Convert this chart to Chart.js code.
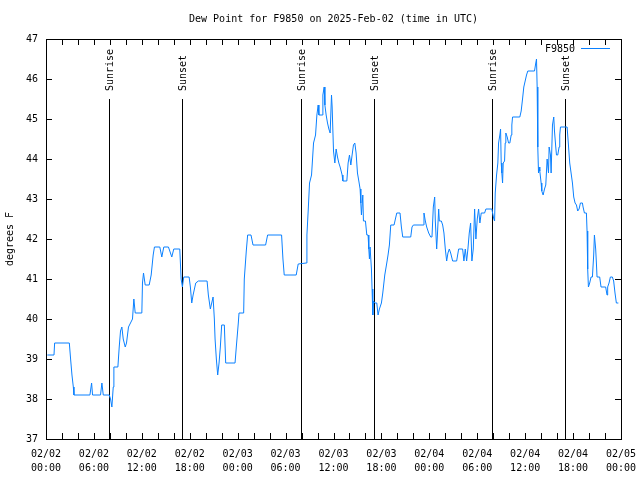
<!DOCTYPE html>
<html>
<head>
<meta charset="utf-8">
<script src="https://cdn.jsdelivr.net/npm/chart.js@4/dist/chart.umd.min.js"></script>
<style>
  html, body { margin: 0; padding: 0; background: #fff; }
  canvas { display: block; }
</style>
</head>
<body>
<canvas id="myChart" width="640" height="480"></canvas>
<script>
const chartTitle = 'Dew Point for F9850 on 2025-Feb-02 (time in UTC)';
const yTitle = 'degrees F';
const seriesName = 'F9850';

// hours since 02/02 00:00 UTC
const hours = [
  0.17, 1.0, 1.08, 2.92, 3.08, 3.25, 3.42, 3.5, 5.5, 5.71, 5.83, 6.83, 7.0, 7.17, 7.92, 8.08,
  8.25, 8.42, 8.5, 9.0, 9.17, 9.33, 9.5, 9.67, 9.92, 10.08, 10.33, 10.58, 10.83, 11.0, 11.17, 12.0,
  12.08, 12.21, 12.42, 12.92, 13.17, 13.42, 13.58, 14.25, 14.5, 14.75, 15.33, 15.75, 16.0, 16.75, 16.92, 17.08,
  17.25, 17.92, 18.08, 18.25, 18.42, 18.75, 19.08, 20.17, 20.33, 20.58, 20.75, 20.92, 21.08, 21.17, 21.33, 21.5,
  21.67, 21.83, 22.0, 22.33, 22.5, 23.67, 23.83, 24.08, 24.17, 24.75, 24.83, 25.08, 25.25, 25.67, 25.92, 27.5,
  27.75, 29.5, 29.67, 29.83, 31.33, 31.58, 32.58, 32.67, 32.83, 33.0, 33.25, 33.5, 33.75, 33.92, 34.08, 34.17,
  34.58, 34.67, 34.83, 34.92, 35.08, 35.25, 35.42, 35.58, 35.75, 35.83, 36.0, 36.17, 36.33, 36.5, 36.67, 36.83,
  37.08, 37.17, 37.67, 37.83, 38.0, 38.17, 38.33, 38.5, 38.67, 38.83, 39.0, 39.17, 39.33, 39.42, 39.5, 39.67,
  39.75, 40.0, 40.17, 40.33, 40.42, 40.5, 40.58, 40.75, 40.83, 40.92, 41.0, 41.17, 41.42, 41.58, 41.75, 42.0,
  42.17, 42.42, 42.67, 42.83, 43.0, 43.17, 43.58, 43.75, 43.92, 44.33, 44.5, 44.67, 45.67, 45.83, 46.0, 47.25,
  47.33, 47.5, 47.67, 47.92, 48.17, 48.33, 48.5, 48.67, 48.75, 48.92, 49.0, 49.17, 49.25, 49.5, 49.67, 49.83,
  50.0, 50.17, 50.33, 50.5, 50.67, 50.92, 51.42, 51.67, 52.17, 52.33, 52.5, 52.67, 52.83, 53.0, 53.17, 53.33,
  53.5, 53.67, 53.83, 54.0, 54.17, 54.33, 54.5, 54.92, 55.08, 55.83, 55.92, 56.08, 56.17, 56.25, 56.42, 56.58,
  56.67, 56.83, 56.92, 57.0, 57.08, 57.17, 57.25, 57.42, 57.5, 57.58, 57.75, 57.92, 58.08, 58.25, 58.33, 58.42,
  59.33, 59.5, 59.67, 59.83, 60.0, 60.17, 60.33, 61.17, 61.33, 61.42, 61.5, 61.58, 61.67, 61.75, 61.83, 62.0,
  62.08, 62.25, 62.42, 62.58, 62.75, 62.92, 63.0, 63.17, 63.25, 63.42, 63.58, 63.67, 63.83, 63.92, 64.08, 64.25,
  64.33, 64.42, 65.25, 65.42, 65.58, 65.75, 65.92, 66.08, 66.25, 66.42, 66.58, 66.75, 66.92, 67.17, 67.25, 67.42,
  67.67, 67.75, 67.83, 67.92, 68.08, 68.25, 68.42, 68.58, 68.67, 68.83, 68.92, 69.0, 69.33, 69.5, 70.08, 70.25,
  70.33, 70.5, 70.67, 70.92, 71.08, 71.25, 71.42, 71.67
];

const dewPoint = [
  39.1, 39.1, 39.4, 39.4, 39.0, 38.6, 38.3, 38.1, 38.1, 38.4, 38.1, 38.1, 38.4, 38.1, 38.1, 38.0,
  37.8, 38.3, 38.8, 38.8, 39.3, 39.7, 39.8, 39.5, 39.3, 39.4, 39.8, 39.9, 40.0, 40.5, 40.15, 40.15,
  40.9, 41.15, 40.85, 40.85, 41.1, 41.6, 41.8, 41.8, 41.55, 41.8, 41.8, 41.55, 41.75, 41.75, 41.0, 40.8,
  41.05, 41.05, 40.8, 40.4, 40.6, 40.9, 40.95, 40.95, 40.6, 40.25, 40.4, 40.55, 40.0, 39.5, 39.0, 38.6,
  38.9, 39.3, 39.85, 39.85, 38.9, 38.9, 39.3, 39.9, 40.15, 40.15, 41.0, 41.7, 42.1, 42.1, 41.85, 41.85,
  42.1, 42.1, 41.5, 41.1, 41.1, 41.375, 41.4, 42.1, 42.7, 43.4, 43.6, 44.4, 44.6, 45.1, 45.35, 45.1,
  45.1, 45.6, 45.8, 45.35, 45.1, 44.9, 44.75, 44.65, 45.6, 45.3, 44.2, 43.9, 44.25, 44.05, 43.9, 43.8,
  43.6, 43.45, 43.45, 43.9, 44.1, 43.85, 44.1, 44.35, 44.4, 44.15, 43.65, 43.45, 43.25, 42.9, 42.6, 43.1,
  42.45, 42.45, 42.1, 42.1, 41.75, 41.5, 41.8, 41.25, 40.75, 40.1, 40.45, 40.4, 40.4, 40.1, 40.25, 40.4,
  40.65, 41.1, 41.4, 41.6, 41.85, 42.35, 42.35, 42.5, 42.65, 42.65, 42.3, 42.05, 42.05, 42.3, 42.35, 42.35,
  42.65, 42.45, 42.3, 42.15, 42.05, 42.05, 42.8, 43.05, 42.45, 41.75, 42.05, 42.75, 42.45, 42.45, 42.35, 42.15,
  41.75, 41.45, 41.65, 41.75, 41.65, 41.45, 41.45, 41.75, 41.75, 41.45, 41.75, 41.45, 41.75, 42.15, 42.4, 41.45,
  41.75, 42.75, 42.0, 42.5, 42.75, 42.4, 42.65, 42.65, 42.75, 42.75, 42.65, 42.5, 42.45, 43.15, 43.6, 43.9,
  44.4, 44.6, 44.75, 43.9, 43.65, 43.4, 43.9, 43.95, 44.4, 44.65, 44.55, 44.4, 44.4, 44.6, 44.85, 45.05,
  45.05, 45.2, 45.5, 45.8, 45.95, 46.1, 46.2, 46.2, 46.4, 46.5, 45.8, 44.3, 43.65, 43.8, 43.7, 43.4,
  43.2, 43.1, 43.25, 43.35, 44.0, 43.65, 44.3, 44.1, 43.65, 44.85, 45.05, 44.7, 44.3, 44.1, 44.1, 44.3,
  44.6, 44.8, 44.8, 44.35, 43.9, 43.65, 43.4, 43.05, 42.9, 42.85, 42.7, 42.75, 42.9, 42.9, 42.8, 42.65,
  42.65, 42.2, 41.25, 40.8, 40.9, 41.05, 41.05, 41.6, 42.1, 41.75, 41.4, 41.05, 41.05, 40.8, 40.8, 40.6,
  40.8, 40.9, 41.05, 41.05, 40.95, 40.65, 40.4, 40.4
];

const xTickLabels = [
  ['02/02', '00:00'], ['02/02', '06:00'], ['02/02', '12:00'], ['02/02', '18:00'],
  ['02/03', '00:00'], ['02/03', '06:00'], ['02/03', '12:00'], ['02/03', '18:00'],
  ['02/04', '00:00'], ['02/04', '06:00'], ['02/04', '12:00'], ['02/04', '18:00'],
  ['02/05', '00:00']
];

const eventHours = [7.92, 17.03, 31.9, 41.04, 55.85, 64.95];
const eventLabels = ['Sunrise', 'Sunset', 'Sunrise', 'Sunset', 'Sunrise', 'Sunset'];

const FONT = '"DejaVu Sans Mono", "Liberation Mono", monospace';
const lineColor = '#0a80ff';

// frame, inward ticks, title, legend and sun lines
const extras = {
  id: 'extras',
  beforeDatasetsDraw(chart) {
    const { ctx, chartArea: a, scales: { x, y } } = chart;
    ctx.save();
    ctx.strokeStyle = '#000';
    ctx.lineWidth = 1;
    ctx.fillStyle = '#000';
    ctx.font = '10px ' + FONT;
    eventHours.forEach((h, i) => {
      const px = Math.round(x.getPixelForValue(h)) + 0.5;
      ctx.beginPath();
      ctx.moveTo(px, y.getPixelForValue(45.5));
      ctx.lineTo(px, a.bottom);
      ctx.stroke();
      ctx.save();
      ctx.translate(px + 1, y.getPixelForValue(45.7));
      ctx.rotate(-Math.PI / 2);
      ctx.textAlign = 'left';
      ctx.textBaseline = 'middle';
      ctx.fillText(eventLabels[i], 0, 0);
      ctx.restore();
    });
    ctx.restore();
  },
  afterDatasetsDraw(chart) {
    const { ctx, chartArea: a, scales: { x, y } } = chart;
    ctx.save();
    ctx.strokeStyle = '#000';
    ctx.lineWidth = 1;
    ctx.beginPath();
    for (let h = 0; h <= 72; h += 2) {
      const px = Math.round(x.getPixelForValue(h)) + 0.5;
      ctx.moveTo(px, a.bottom); ctx.lineTo(px, a.bottom - 6);
      ctx.moveTo(px, a.top); ctx.lineTo(px, a.top + 6);
    }
    for (let v = 37; v <= 47; v++) {
      const py = Math.round(y.getPixelForValue(v)) + 0.5;
      ctx.moveTo(a.left, py); ctx.lineTo(a.left + 6, py);
      ctx.moveTo(a.right, py); ctx.lineTo(a.right - 6, py);
    }
    ctx.stroke();
    ctx.strokeRect(a.left + 0.5, a.top + 0.5, a.right - a.left, a.bottom - a.top);

    ctx.fillStyle = '#000';
    ctx.font = '10px ' + FONT;
    ctx.textBaseline = 'middle';
    ctx.textAlign = 'center';
    ctx.fillText(chartTitle, (a.left + a.right) / 2, 19);

    // legend: name, then line sample
    const ds = chart.data.datasets[0];
    ctx.textAlign = 'right';
    ctx.fillText(ds.label, 575, 49);
    ctx.strokeStyle = ds.borderColor;
    ctx.beginPath();
    ctx.moveTo(581, 48.5);
    ctx.lineTo(610, 48.5);
    ctx.stroke();
    ctx.restore();
  }
};

const ctx = document.getElementById('myChart').getContext('2d');
const myChart = new Chart(ctx, {
  type: 'line',
  data: {
    datasets: [{
      label: seriesName,
      data: hours.map((h, i) => ({ x: h, y: dewPoint[i] })),
      borderColor: lineColor,
      borderWidth: 1,
      pointRadius: 0,
      tension: 0,
      fill: false
    }]
  },
  options: {
    responsive: false,
    animation: false,
    devicePixelRatio: 1,
    layout: { padding: { left: 0, right: 19, top: 39, bottom: 0 } },
    plugins: {
      legend: { display: false },
      title: { display: false },
      tooltip: { enabled: false }
    },
    scales: {
      x: {
        type: 'linear',
        min: 0,
        max: 72,
        afterFit: (scale) => {
          scale.height = 41;
          scale.paddingLeft = 0;
          scale.paddingRight = 0;
        },
        grid: { display: false, drawTicks: false },
        border: { display: false },
        ticks: {
          stepSize: 6,
          autoSkip: false,
          maxRotation: 0,
          padding: 8,
          color: '#000',
          font: { family: FONT, size: 10, lineHeight: 1.4 },
          callback: (v) => xTickLabels[Math.round(v / 6)]
        }
      },
      y: {
        min: 37,
        max: 47,
        afterFit: (scale) => {
          scale.width = 46;
          scale.paddingTop = 0;
          scale.paddingBottom = 0;
        },
        grid: { display: false, drawTicks: false },
        border: { display: false },
        ticks: {
          stepSize: 1,
          padding: 8,
          color: '#000',
          font: { family: FONT, size: 10 }
        },
        title: {
          display: true,
          text: yTitle,
          color: '#000',
          font: { family: FONT, size: 10 },
          padding: { top: 4, bottom: 0 }
        }
      }
    }
  },
  plugins: [extras]
});
</script>
</body>
</html>
